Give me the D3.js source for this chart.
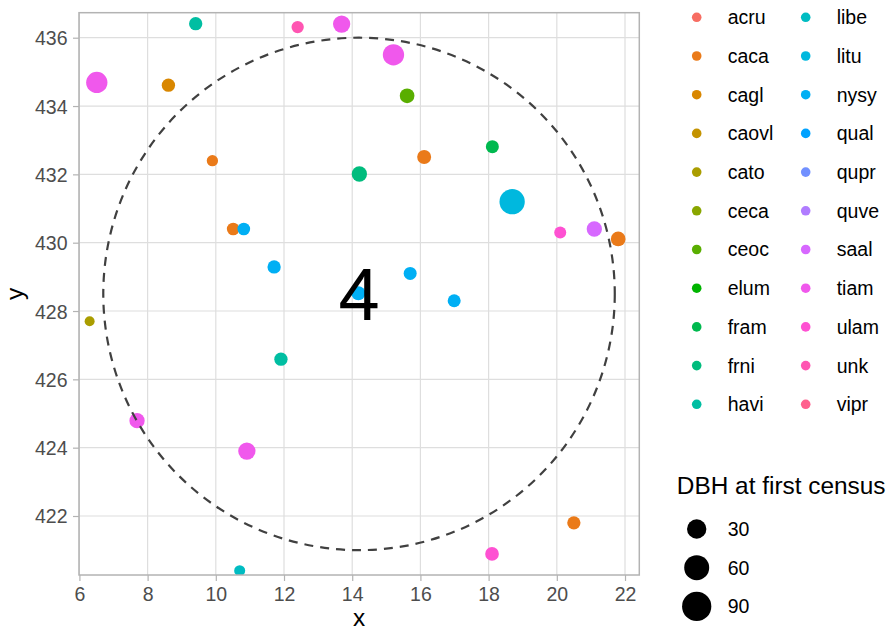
<!DOCTYPE html>
<html>
<head>
<meta charset="utf-8">
<script src="https://cdn.jsdelivr.net/npm/d3@7"></script>
<style>
  html, body { margin: 0; padding: 0; background: #fff; }
  svg { display: block; font-family: "Liberation Sans", Arial, Helvetica, sans-serif; }
</style>
</head>
<body>
<div id="chart"></div>
<script>
// ---------------- data ----------------
const speciesLevels = ["acru","caca","cagl","caovl","cato","ceca","ceoc","elum","fram","frni","havi",
                       "libe","litu","nysy","qual","qupr","quve","saal","tiam","ulam","unk","vipr"];

const ptSpecies = ["havi","unk","tiam","cagl","caca","caca","nysy","nysy","cato","tiam",
                   "tiam","ceoc","fram","caca","frni","litu","ulam","saal","caca","nysy",
                   "nysy","nysy","havi","tiam","tiam","libe","ulam","caca"];
const ptX = [9.41,12.40,6.51,8.61,9.90,10.51,10.82,11.71,6.30,13.69,
             15.21,15.61,18.11,16.11,14.21,18.69,20.10,21.10,21.80,15.70,
             16.99,14.18,11.91,7.69,10.91,10.70,18.10,20.50];
const ptY = [436.41,436.31,434.69,434.61,432.40,430.40,430.40,429.29,427.70,436.40,
             435.50,434.30,432.81,432.51,432.01,431.20,430.30,430.40,430.11,429.10,
             428.30,428.52,426.59,424.79,423.90,420.40,420.89,421.80];
const ptDBH = [9.3,7.1,39,9.3,5.2,7.9,7.9,9.3,3.3,21.4,
               39,12.9,8.6,11,14.7,62,6.5,14.7,12.9,8.6,
               8.6,11,9.3,14.7,21.4,4.8,10.2,9.3];

const xTicks = [6,8,10,12,14,16,18,20,22];
const yTicks = [422,424,426,428,430,432,434,436];
const sizeBreaks = [30,60,90];
const sizeLimits = [1,95];

const circleCenter = [14.2, 428.5];
const circleRadius = 7.5;
const quadratLabel = "4";
const sizeTitle = "DBH at first census";

// ---------------- helpers ----------------
// polar LUV (as R's hcl()) -> hex, for a ggplot-style hue palette
function hclLuv(h, c, l) {
  const hr = h * Math.PI / 180;
  const U = c * Math.cos(hr), V = c * Math.sin(hr);
  const Xn = 95.047, Yn = 100, Zn = 108.883;
  const den = Xn + 15 * Yn + 3 * Zn;
  const un = 4 * Xn / den, vn = 9 * Yn / den;
  const Y = l > 8 ? Yn * Math.pow((l + 16) / 116, 3) : Yn * l / 903.2963;
  const up = U / (13 * l) + un, vp = V / (13 * l) + vn;
  const X = Y * 9 * up / (4 * vp);
  const Z = Y * (12 - 3 * up - 20 * vp) / (4 * vp);
  const x = X / 100, y = Y / 100, z = Z / 100;
  let r = 3.240479 * x - 1.537150 * y - 0.498535 * z;
  let g = -0.969256 * x + 1.875992 * y + 0.041556 * z;
  let b = 0.055648 * x - 0.204043 * y + 1.057311 * z;
  const gam = v => v <= 0.0031308 ? 12.92 * v : 1.055 * Math.pow(Math.max(v, 0), 1 / 2.4) - 0.055;
  const cl = v => Math.max(0, Math.min(1, v));
  r = cl(gam(r)); g = cl(gam(g)); b = cl(gam(b));
  return d3.rgb(r * 255, g * 255, b * 255).formatHex();
}
const n = speciesLevels.length;
const palette = speciesLevels.map((s, i) => hclLuv(15 + 360 * i / n, 108, 63));
const color = d3.scaleOrdinal().domain(speciesLevels).range(palette);

// ---------------- layout ----------------
const W = 888, H = 631;
const panel = { left: 79, right: 639.3, top: 12.7, bottom: 575 };

const x = d3.scaleLinear().domain([5.988, 22.419]).range([panel.left, panel.right]);
const y = d3.scaleLinear().domain([420.273, 436.732]).range([panel.bottom, panel.top]);

const sizeT = d3.scaleLinear().domain(sizeLimits).range([0, 1]).clamp(true);
const diam = d3.scaleLinear().domain([0, 1]).range([6.3, 29.9]);
const radius = v => diam(Math.sqrt(sizeT(v))) / 2;

const svg = d3.select("#chart").append("svg").attr("width", W).attr("height", H);
svg.append("rect").attr("width", W).attr("height", H).attr("fill", "#fff");

const clipId = "panelclip";
svg.append("clipPath").attr("id", clipId).append("rect")
  .attr("x", panel.left).attr("y", panel.top)
  .attr("width", panel.right - panel.left).attr("height", panel.bottom - panel.top);

// grid
const grid = svg.append("g");
grid.selectAll("line.vx").data(xTicks).join("line")
  .attr("x1", d => x(d)).attr("x2", d => x(d))
  .attr("y1", panel.top).attr("y2", panel.bottom)
  .attr("stroke", "#DEDEDE").attr("stroke-width", 1.2);
grid.selectAll("line.hy").data(yTicks).join("line")
  .attr("y1", d => y(d)).attr("y2", d => y(d))
  .attr("x1", panel.left).attr("x2", panel.right)
  .attr("stroke", "#DEDEDE").attr("stroke-width", 1.2);

// points
const pts = d3.range(ptX.length).map(i => ({ sp: ptSpecies[i], x: ptX[i], y: ptY[i], dbh: ptDBH[i] }));
svg.append("g").attr("clip-path", `url(#${clipId})`)
  .selectAll("circle").data(pts).join("circle")
  .attr("cx", d => x(d.x)).attr("cy", d => y(d.y))
  .attr("r", d => radius(d.dbh))
  .attr("fill", d => color(d.sp));

// dashed circle
const cx0 = x(circleCenter[0]), cy0 = y(circleCenter[1]);
svg.append("ellipse")
  .attr("cx", cx0).attr("cy", cy0)
  .attr("rx", x(circleCenter[0] + circleRadius) - cx0)
  .attr("ry", cy0 - y(circleCenter[1] + circleRadius))
  .attr("fill", "none").attr("stroke", "#404040")
  .attr("stroke-width", 2.2).attr("stroke-dasharray", "9,7");

// big label
svg.append("text")
  .attr("x", x(circleCenter[0])).attr("y", y(circleCenter[1]))
  .attr("dy", "0.358em").attr("text-anchor", "middle")
  .attr("font-size", 74).attr("fill", "#000").text(quadratLabel);

// panel border
svg.append("rect")
  .attr("x", panel.left).attr("y", panel.top)
  .attr("width", panel.right - panel.left).attr("height", panel.bottom - panel.top)
  .attr("fill", "none").attr("stroke", "#B3B3B3").attr("stroke-width", 1.5);

// axes
const xAxis = d3.axisBottom(x).tickValues(xTicks).tickSize(6).tickPadding(5).tickFormat(d3.format("d"));
const yAxis = d3.axisLeft(y).tickValues(yTicks).tickSize(6).tickPadding(5).tickFormat(d3.format("d"));
const gx = svg.append("g").attr("transform", `translate(0,${panel.bottom})`).call(xAxis);
const gy = svg.append("g").attr("transform", `translate(${panel.left},0)`).call(yAxis);
[gx, gy].forEach(g => {
  g.select(".domain").remove();
  g.selectAll(".tick line").attr("stroke", "#B3B3B3").attr("stroke-width", 1.2);
  g.selectAll(".tick text").attr("fill", "#4D4D4D").attr("font-size", 19.5)
    .attr("font-family", "Liberation Sans, Arial, sans-serif");
});
gx.selectAll(".tick text").attr("dy", "0.76em");
gy.selectAll(".tick text").attr("dy", "0.358em").attr("x", -11.5);

// axis titles
svg.append("text").attr("x", (panel.left + panel.right) / 2).attr("y", 626)
  .attr("text-anchor", "middle").attr("font-size", 24.4).attr("fill", "#000").text("x");
svg.append("text").attr("transform", `translate(22.5,${(panel.top + panel.bottom) / 2}) rotate(-90)`)
  .attr("text-anchor", "middle").attr("font-size", 24.4).attr("fill", "#000").text("y");

// colour legend (2 columns)
const keyH = 38.7;
const colX = [696.7, 805.7];
const rowsPerCol = Math.ceil(n / 2);
const leg = svg.append("g");
speciesLevels.forEach((s, i) => {
  const col = Math.floor(i / rowsPerCol), row = i % rowsPerCol;
  const ky = 17.3 + row * keyH;
  leg.append("circle").attr("cx", colX[col]).attr("cy", ky).attr("r", 4.8).attr("fill", color(s));
  leg.append("text").attr("x", colX[col] + 31).attr("y", ky).attr("dy", "0.358em")
    .attr("font-size", 19.5).attr("fill", "#000").text(s);
});

// size legend
svg.append("text").attr("x", 676.8).attr("y", 494).attr("font-size", 24.4).attr("fill", "#000").text(sizeTitle);
sizeBreaks.forEach((b, i) => {
  const ky = 529 + i * keyH;
  svg.append("circle").attr("cx", 696.7).attr("cy", ky).attr("r", radius(b)).attr("fill", "#000");
  svg.append("text").attr("x", 727.7).attr("y", ky).attr("dy", "0.358em")
    .attr("font-size", 19.5).attr("fill", "#000").text(b);
});
</script>
</body>
</html>
